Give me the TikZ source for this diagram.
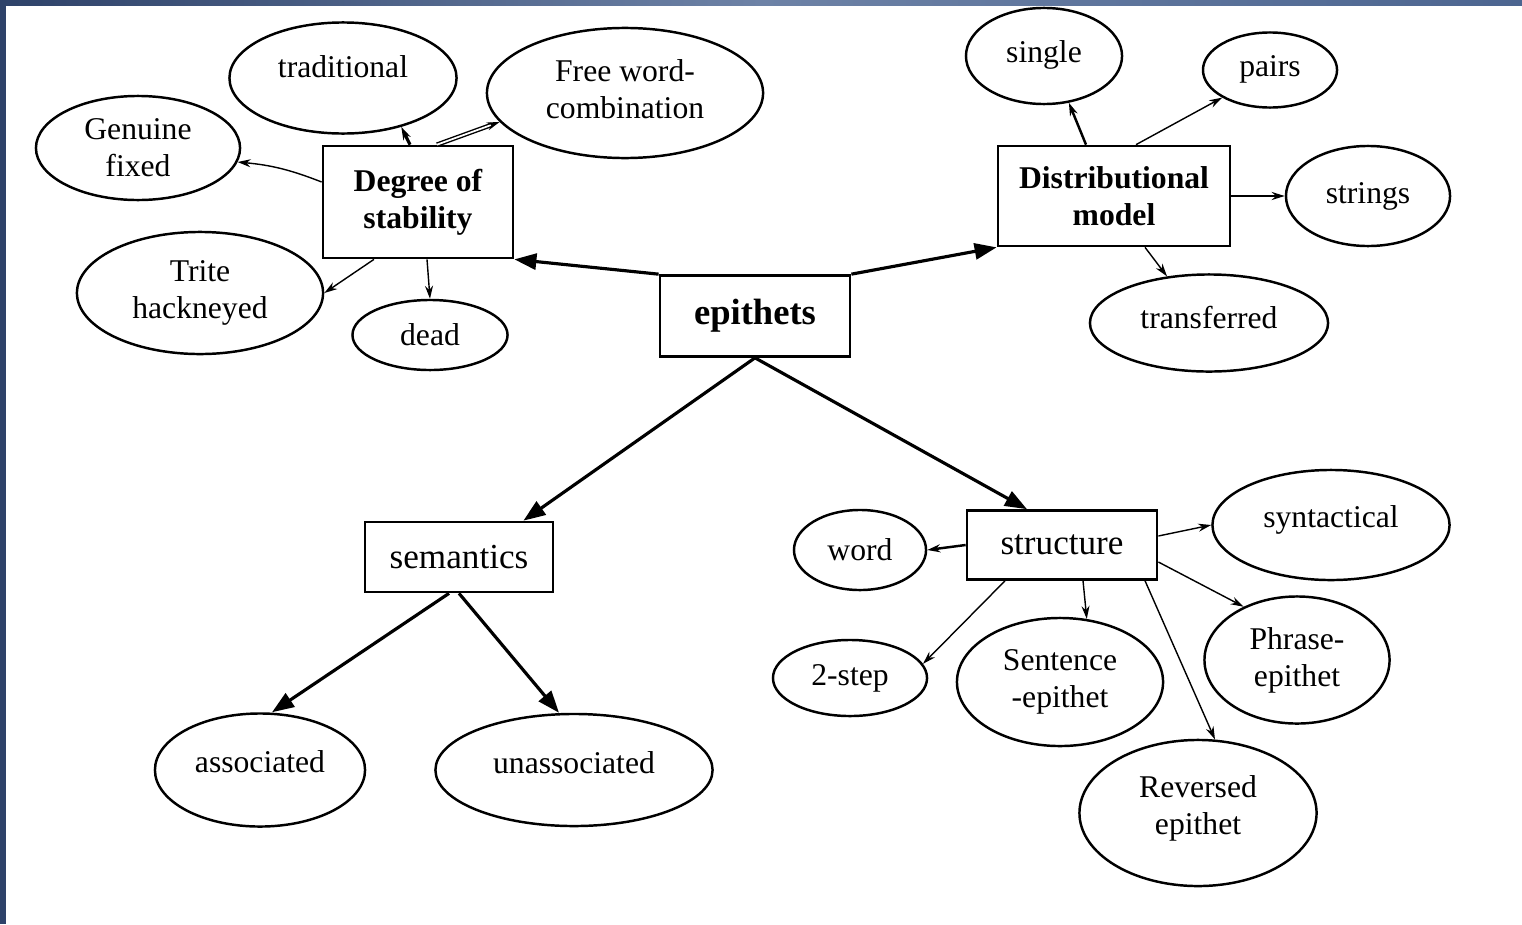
\documentclass[tikz,border=0pt]{standalone}
\usepackage{fontspec}
\setmainfont{Liberation Serif}
\usetikzlibrary{shapes.geometric, arrows.meta}

\definecolor{framedark}{HTML}{2E4269}
\definecolor{framelight}{HTML}{6D82A6}
\definecolor{framemid}{HTML}{4C6590}

\newcommand{\up}[2]{\raisebox{#1}{\begin{tabular}{@{}c@{}}#2\end{tabular}}}

\tikzstyle{topic} = [rectangle, draw=black, line width=0.75pt, inner sep=0pt, align=center, font=\fontsize{9}{10.5}\selectfont\bfseries]
\tikzstyle{group} = [rectangle, draw=black, line width=0.75pt, inner sep=0pt, align=center, font=\fontsize{10}{12}\selectfont]
\tikzstyle{leaf} = [ellipse, draw=black, line width=0.7pt, inner sep=0pt, align=center, font=\fontsize{9}{10.5}\selectfont]
\tikzstyle{mainarrow} = [line width=0.9pt, -{Triangle[length=0.22cm, width=0.16cm]}]
\tikzstyle{subarrow} = [line width=0.4pt, -{Stealth[length=0.13cm, width=0.08cm]}]

\begin{document}
\begin{tikzpicture}[x=0.01cm, y=-0.01cm]

% --- Page and frame ---
\useasboundingbox (0,0) rectangle (1522,924);
\fill[white] (0,0) rectangle (1522,924);
\shade[left color=framedark, right color=framemid, middle color=framelight] (0,0) rectangle (1522,5);
\fill[framedark] (0,0) rectangle (6,924);

% --- Centre and groups ---
\node (epi) [topic, font=\fontsize{10.4}{12}\selectfont\bfseries, minimum width=1.90cm, minimum height=0.81cm] at (755,316) {epithets};
\node (deg) [topic, minimum width=1.90cm, minimum height=1.12cm] at (418,202) {Degree of\\stability};
\node (dist) [topic, minimum width=2.32cm, minimum height=1.00cm] at (1114,196) {Distributional\\model};
\node (sem) [group, minimum width=1.88cm, minimum height=0.70cm] at (459,557) {semantics};
\node (struc) [group, minimum width=1.90cm, minimum height=0.69cm] at (1062,545) {structure};

% --- Degree of stability ---
\node (trad) [leaf, minimum width=2.27cm, minimum height=1.11cm] at (343,78) {\up{0.26cm}{traditional}};
\node (free) [leaf, minimum width=2.76cm, minimum height=1.30cm] at (625,93) {\up{0.20cm}{Free word-\\combination}};
\node (gen) [leaf, minimum width=2.04cm, minimum height=1.04cm] at (138,148) {Genuine\\fixed};
\node (trite) [leaf, minimum width=2.46cm, minimum height=1.22cm] at (200,293) {Trite\\hackneyed};
\node (dead) [leaf, minimum width=1.55cm, minimum height=0.70cm] at (430,335) {dead};

% --- Distributional model ---
\node (single) [leaf, minimum width=1.56cm, minimum height=0.96cm] at (1044,56) {\up{0.12cm}{single}};
\node (pairs) [leaf, minimum width=1.34cm, minimum height=0.75cm] at (1270,70) {\up{0.12cm}{pairs}};
\node (strings) [leaf, minimum width=1.64cm, minimum height=1.00cm] at (1368,196) {\up{0.08cm}{strings}};
\node (trans) [leaf, minimum width=2.38cm, minimum height=0.97cm] at (1209,323) {\up{0.14cm}{transferred}};

% --- Semantics ---
\node (ass) [leaf, minimum width=2.10cm, minimum height=1.13cm] at (260,770) {\up{0.20cm}{associated}};
\node (unass) [leaf, minimum width=2.77cm, minimum height=1.12cm] at (574,770) {\up{0.18cm}{unassociated}};

% --- Structure ---
\node (word) [leaf, minimum width=1.32cm, minimum height=0.80cm] at (860,550) {word};
\node (synt) [leaf, minimum width=2.37cm, minimum height=1.10cm] at (1331,525) {\up{0.20cm}{syntactical}};
\node (two) [leaf, minimum width=1.54cm, minimum height=0.76cm] at (850,678) {2-step};
\node (sent) [leaf, minimum width=2.06cm, minimum height=1.28cm] at (1060,682) {\up{0.30cm}{Sentence\\-epithet}};
\node (phr) [leaf, minimum width=1.85cm, minimum height=1.27cm] at (1297,660) {Phrase-\\epithet};
\node (rev) [leaf, minimum width=2.37cm, minimum height=1.46cm] at (1198,813) {\up{0.38cm}{Reversed\\epithet}};

% --- Main connections ---
\draw [mainarrow] (epi.north west) -- (deg.south east);
\draw [mainarrow] (epi.north east) -- (dist.south west);
\draw [mainarrow] (epi.south) -- ([xshift=-0.31cm]sem.north east);
\draw [mainarrow] (epi.south) -- ([xshift=-0.35cm]struc.north);
\draw [mainarrow] ([xshift=-0.10cm]sem.south) -- ([xshift=0.12cm]ass.north);
\draw [mainarrow] (sem.south) -- ([xshift=-0.15cm]unass.north);

% --- Degree of stability ---
\draw [subarrow] ([yshift=0.20cm]deg.west) to[bend right=8] (gen.-8);
\draw [subarrow, line width=0.9pt] ([xshift=-0.08cm]deg.north) -- (trad.-40);
\draw [subarrow, double, double distance=0.5pt] ([xshift=0.19cm]deg.north) -- (free.193);
\draw [subarrow] ([xshift=-0.44cm]deg.south) -- (trite.east);
\draw [subarrow] ([xshift=0.09cm]deg.south) -- (dead.north);

% --- Distributional model ---
\draw [subarrow, line width=0.7pt] ([xshift=-0.28cm]dist.north) -- (single.-62);
\draw [subarrow] ([xshift=0.22cm]dist.north) -- (pairs.210);
\draw [subarrow, line width=0.7pt] (dist.east) -- (strings.west);
\draw [subarrow] ([xshift=0.31cm]dist.south) -- (trans.132);

% --- Structure ---
\draw [subarrow, line width=0.7pt] (struc.west) -- (word.east);
\draw [subarrow] ([yshift=0.09cm]struc.east) -- (synt.west);
\draw [subarrow] ([yshift=-0.17cm]struc.east) -- (phr.135);
\draw [subarrow] ([xshift=0.21cm]struc.south) -- (sent.67);
\draw [subarrow] ([xshift=-0.57cm]struc.south) -- (two.11);
\draw [subarrow] ([xshift=0.83cm]struc.south) -- (rev.77);

\end{tikzpicture}
\end{document}
